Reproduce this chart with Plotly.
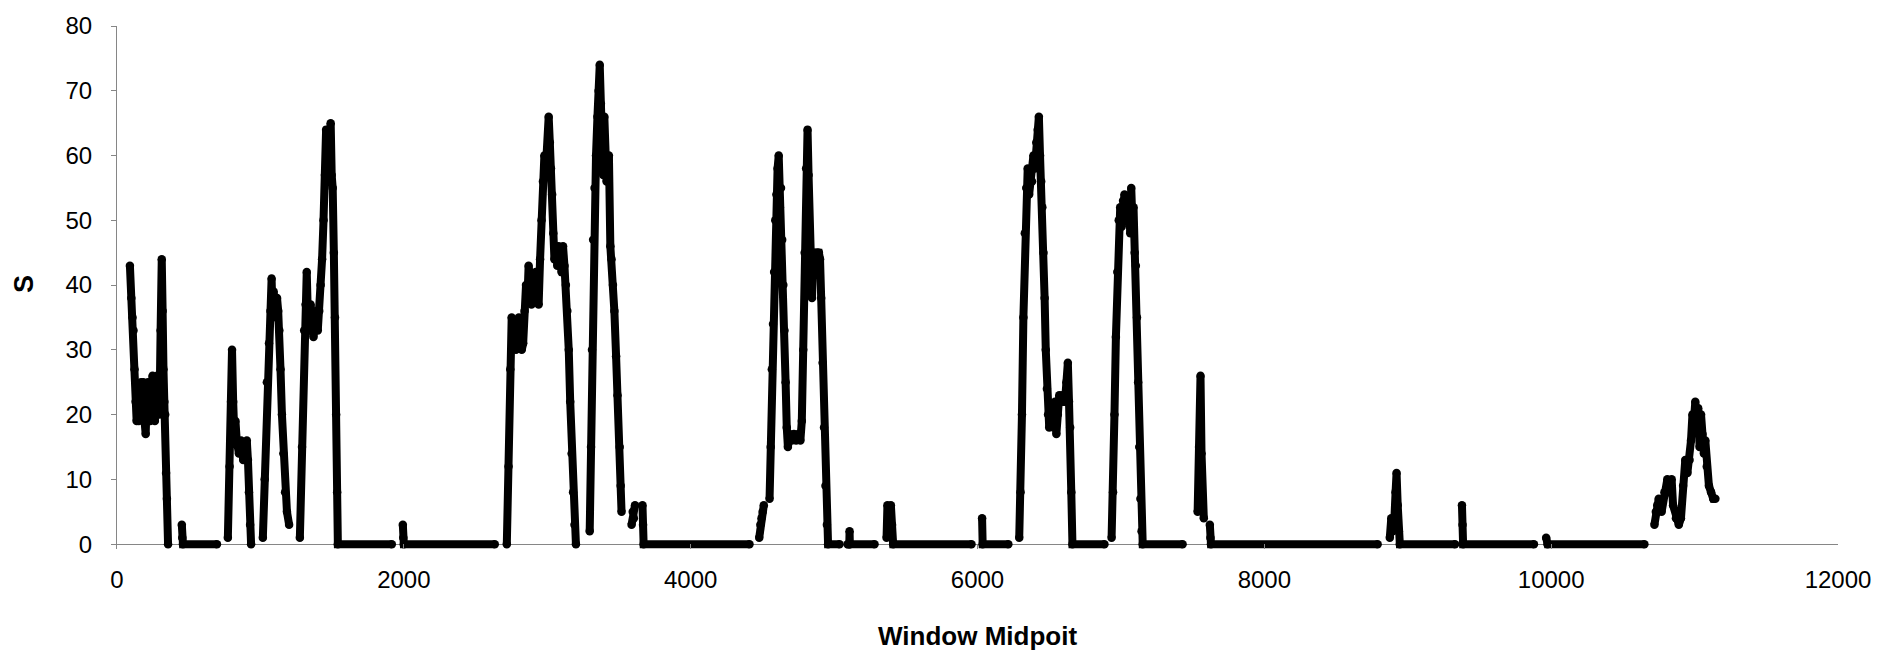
import plotly.graph_objects as go

# Segregating sites (S) per sliding window, grouped into contiguous blocks of windows.
# Each block is (window midpoints, S values); gaps between blocks have no windows.
blk01_x = [90, 100, 108, 115, 122, 130, 137, 145, 152, 160, 168, 176, 184, 192, 200, 208, 216, 224,
           232, 240, 248, 256, 264, 272, 280, 288, 296, 304, 312, 318, 324, 330, 336, 342, 348, 356]
blk01_s = [43, 38, 35, 33, 27, 22, 19, 21, 19, 22, 25, 20, 25, 19, 17, 23, 25, 20,
           19, 23, 26, 20, 19, 24, 26, 22, 20, 33, 44, 36, 27, 22, 20, 11, 7, 0]

blk02_x = [452, 455, 460, 697]
blk02_s = [3, 1, 0, 0]

blk03_x = [773, 785, 795, 802, 810, 818, 826, 835, 850, 865, 880, 895, 905, 913, 920, 928, 935]
blk03_s = [1, 12, 22, 30, 22, 17, 19, 16, 14, 16, 13, 15, 16, 13, 8, 3, 0]

blk04_x = [1017, 1030, 1045, 1060, 1070, 1078, 1085, 1092, 1100, 1108, 1116, 1124, 1132, 1140,
           1150, 1160, 1172, 1185, 1200]
blk04_s = [1, 10, 25, 31, 36, 41, 35, 39, 37, 36, 38, 36, 33, 27, 20, 14, 8, 5, 3]

blk05_x = [1275, 1290, 1305, 1315, 1323, 1330, 1340, 1350, 1360, 1370, 1380, 1390, 1400, 1410,
           1420, 1430, 1440, 1450, 1458, 1466, 1474, 1482, 1490, 1497, 1504, 1512, 1520, 1528,
           1535, 1540, 1916]
blk05_s = [1, 15, 33, 37, 42, 36, 33, 37, 35, 32, 34, 36, 33, 36,
           40, 44, 50, 57, 64, 58, 63, 61, 65, 57, 55, 45, 35, 20,
           8, 0, 0]

blk06_x = [1993, 1996, 2000, 2634]
blk06_s = [3, 1, 0, 0]

blk07_x = [2718, 2730, 2742, 2752, 2762, 2772, 2782, 2792, 2802, 2812, 2822, 2832, 2842, 2852,
           2862, 2870, 2880, 2890, 2900, 2910, 2920, 2930, 2940, 2950, 2960, 2970, 2980, 2990,
           3000, 3010, 3018, 3026, 3034, 3042, 3050, 3060, 3070, 3080, 3090, 3100, 3110, 3120,
           3130, 3140, 3150, 3160, 3170, 3180, 3190, 3200]
blk07_s = [0, 12, 27, 35, 31, 34, 30, 33, 35, 32, 30, 31, 36, 40,
           38, 43, 41, 37, 40, 38, 42, 39, 37, 44, 50, 56, 60, 58,
           61, 66, 62, 58, 54, 48, 44, 46, 43, 46, 45, 42, 46, 43,
           40, 36, 30, 22, 14, 8, 3, 0]

blk08_x = [3296, 3305, 3312, 3320, 3330, 3340, 3350, 3358, 3366, 3374, 3382, 3390, 3398, 3406,
           3414, 3422, 3430, 3440, 3448, 3458, 3468, 3480, 3490, 3505, 3512, 3518]
blk08_s = [2, 15, 30, 47, 55, 60, 66, 70, 74, 68, 62, 57, 66, 60,
           56, 59, 60, 46, 44, 40, 36, 29, 23, 15, 9, 5]

blk09_x = [3588, 3596, 3604, 3612]
blk09_s = [3, 5, 4, 6]

blk10_x = [3664, 3668, 3672, 4410]
blk10_s = [6, 3, 0, 0]

blk11_x = [4478, 4486, 4494, 4502, 4510]
blk11_s = [1, 3, 4, 5, 6]

blk12_x = [4550, 4558, 4566, 4574, 4582, 4590, 4598, 4606, 4614, 4622, 4630, 4638, 4646, 4654,
           4662, 4670, 4678, 4690, 4705, 4720, 4735, 4750, 4765, 4775, 4785, 4795, 4805, 4815,
           4822, 4830, 4838, 4846, 4854, 4862, 4870, 4878, 4886, 4894, 4902, 4910, 4920, 4930,
           4940, 4950, 4958, 5038]
blk12_s = [7, 15, 27, 34, 42, 50, 54, 58, 60, 52, 55, 47, 40, 33,
           25, 18, 15, 17, 16, 17, 16, 17, 16, 19, 30, 45, 58, 64,
           57, 48, 40, 38, 44, 45, 42, 45, 45, 45, 44, 38, 28, 18,
           9, 3, 0, 0]

blk13_x = [5094, 5106, 5108, 5110, 5282]
blk13_s = [0, 0, 2, 0, 0]

blk14_x = [5366, 5372, 5380, 5388, 5396, 5404, 5412, 5958]
blk14_s = [1, 6, 4, 2, 6, 3, 0, 0]

blk15_x = [6032, 6036, 6215]
blk15_s = [4, 0, 0]

blk16_x = [6291, 6300, 6310, 6320, 6330, 6340, 6350, 6360, 6370, 6380, 6390, 6400, 6410, 6420,
           6428, 6436, 6444, 6452, 6460, 6468, 6476, 6484, 6492, 6500, 6510, 6520, 6530, 6540,
           6550, 6560, 6570, 6580, 6590, 6600, 6610, 6620, 6630, 6638, 6646, 6654, 6662, 6885]
blk16_s = [1, 8, 20, 35, 48, 55, 58, 54, 57, 56, 60, 58, 62, 64,
           66, 60, 56, 52, 45, 38, 30, 24, 20, 18, 21, 19, 18, 22,
           17, 20, 23, 22, 23, 22, 22, 25, 28, 22, 18, 8, 0, 0]

blk17_x = [6935, 6945, 6955, 6965, 6975, 6985, 6995, 7005, 7015, 7025, 7035, 7045, 7055, 7065,
           7072, 7080, 7088, 7096, 7104, 7112, 7120, 7128, 7136, 7144, 7152, 7430]
blk17_s = [1, 8, 20, 32, 42, 50, 52, 49, 53, 54, 50, 52, 53, 48,
           55, 50, 52, 45, 43, 35, 25, 15, 7, 2, 0, 0]

blk18_x = [7535, 7545, 7555, 7562, 7570, 7578]
blk18_s = [5, 15, 26, 14, 6, 4]

blk19_x = [7620, 7624, 7628, 8790]
blk19_s = [3, 1, 0, 0]

blk20_x = [8875, 8885, 8895, 8905, 8915, 8922, 8930, 8938, 8945, 9330]
blk20_s = [1, 4, 2, 3, 8, 11, 6, 2, 0, 0]

blk21_x = [9378, 9382, 9386, 9880]
blk21_s = [6, 3, 0, 0]

blk22_x = [9965, 9975, 10650]
blk22_s = [1, 0, 0]

blk23_x = [10720, 10730, 10740, 10750, 10770, 10790, 10810, 10825, 10840, 10850, 10870, 10890,
           10905, 10920, 10935, 10950, 10965, 10975, 10985, 10995, 11005, 11015, 11025, 11035,
           11045, 11055, 11065, 11075, 11085, 11100, 11115, 11130, 11145]
blk23_s = [3, 5, 6, 7, 5, 8, 10, 8, 10, 6, 4, 3,
           4, 9, 13, 11, 13, 16, 20, 19, 22, 18, 21, 15,
           20, 17, 14, 16, 12, 9, 8, 7, 7]

blocks = [
    (blk01_x, blk01_s), (blk02_x, blk02_s), (blk03_x, blk03_s), (blk04_x, blk04_s),
    (blk05_x, blk05_s), (blk06_x, blk06_s), (blk07_x, blk07_s), (blk08_x, blk08_s),
    (blk09_x, blk09_s), (blk10_x, blk10_s), (blk11_x, blk11_s), (blk12_x, blk12_s),
    (blk13_x, blk13_s), (blk14_x, blk14_s), (blk15_x, blk15_s), (blk16_x, blk16_s),
    (blk17_x, blk17_s), (blk18_x, blk18_s), (blk19_x, blk19_s), (blk20_x, blk20_s),
    (blk21_x, blk21_s), (blk22_x, blk22_s), (blk23_x, blk23_s),
]

x_ticks = [0, 2000, 4000, 6000, 8000, 10000, 12000]
y_ticks = [0, 10, 20, 30, 40, 50, 60, 70, 80]

# Join blocks into one trace; None breaks the line between blocks
xs, ys = [], []
for bx, bs in blocks:
    xs.extend(bx + [None])
    ys.extend(bs + [None])

FONT = "Liberation Sans, Arial, sans-serif"
AXIS_GRAY = "#868686"

fig = go.Figure(
    go.Scatter(
        x=xs, y=ys,
        mode="lines+markers",
        line=dict(color="black", width=8),
        marker=dict(color="black", size=8.5),
        connectgaps=False,
        cliponaxis=False,
        hoverinfo="x+y",
    )
)

# The y range starts a little below zero so the thick marks along S = 0 are not clipped;
# the horizontal axis line is the zero line, and inside x ticks hang from it to the frame bottom.
fig.update_layout(
    width=1883, height=663,
    margin=dict(l=117, r=44, t=22, b=114),
    paper_bgcolor="white", plot_bgcolor="white",
    showlegend=False,
    font=dict(family=FONT, size=24, color="black"),
)

fig.update_xaxes(
    range=[0, 12000], tickvals=x_ticks, ticktext=[str(v) for v in x_ticks],
    showgrid=False, zeroline=False, showline=False,
    ticks="inside", ticklen=5, tickcolor=AXIS_GRAY, tickwidth=1,
    ticklabelstandoff=14,
    tickfont=dict(family=FONT, size=24, color="black"),
)
fig.update_yaxes(
    range=[-0.75, 80], tickvals=y_ticks, ticktext=[str(v) for v in y_ticks],
    showgrid=False,
    zeroline=True, zerolinecolor=AXIS_GRAY, zerolinewidth=1,
    showline=True, linecolor=AXIS_GRAY, linewidth=1,
    ticks="outside", ticklen=5, tickcolor=AXIS_GRAY, tickwidth=1,
    ticklabelstandoff=14,
    tickfont=dict(family=FONT, size=24, color="black"),
)

# Axis titles
fig.add_annotation(
    text="<b>Window Midpoit</b>", xref="paper", yref="paper",
    x=0.5, y=-0.166, xanchor="center", yanchor="middle",
    showarrow=False, font=dict(family=FONT, size=26, color="black"),
)
fig.add_annotation(
    text="<b>S</b>", xref="paper", yref="paper",
    x=-0.054, y=0.507, xanchor="center", yanchor="middle", textangle=-90,
    showarrow=False, font=dict(family=FONT, size=27, color="black"),
)

fig.write_html("out.html")
